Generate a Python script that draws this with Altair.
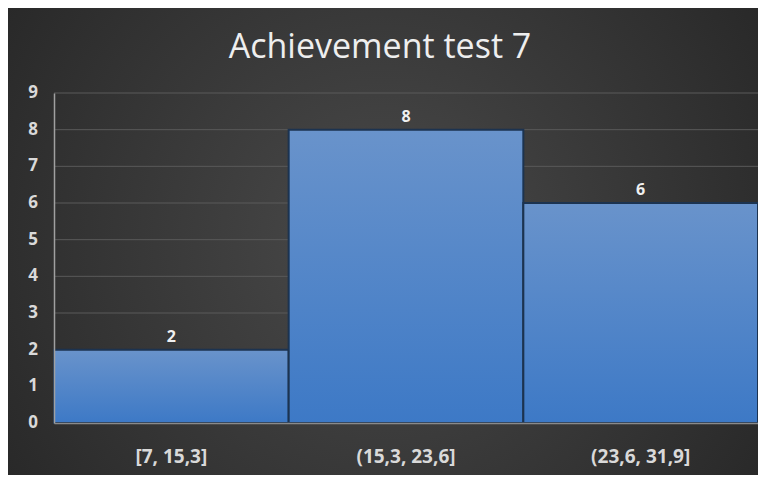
import altair as alt
import pandas as pd

categories = ["[7, 15,3]", "(15,3, 23,6]", "(23,6, 31,9]"]
counts = [2, 8, 6]
title_text = "Achievement test 7"
y_ticks = [0, 1, 2, 3, 4, 5, 6, 7, 8, 9]

df = pd.DataFrame({"bin": categories, "count": counts})
tick_df = pd.DataFrame({"v": y_ticks})
title_df = pd.DataFrame({"t": [title_text]})

W, H = 704, 330
PAD = {"left": 46, "top": 85, "right": 0, "bottom": 52}

y_scale = alt.Scale(domain=[0, 9], nice=False)
y_axis = alt.Axis(title=None, values=y_ticks, ticks=False, labels=False,
                  domainColor="#a0a0a0", domainWidth=1.5, grid=False, zindex=1)

bg = alt.Chart(pd.DataFrame({"a": [0]})).mark_rect(
    color=alt.Gradient(
        gradient="radial",
        x1=0.5, y1=0.5, r1=0.0,
        x2=0.5, y2=0.5, r2=0.75,
        stops=[alt.GradientStop(color="#4a4a4a", offset=0),
               alt.GradientStop(color="#202020", offset=1)],
    )
).encode(
    x=alt.value(-PAD["left"]), x2=alt.value(W + PAD["right"]),
    y=alt.value(-PAD["top"]), y2=alt.value(H + PAD["bottom"]),
)

grid = alt.Chart(tick_df).transform_filter("datum.v > 0").mark_rule(
    color="#5a5a5a", strokeWidth=1
).encode(
    y=alt.Y("v:Q", scale=y_scale, axis=y_axis),
    x=alt.value(0), x2=alt.value(W),
)

ylabels = alt.Chart(tick_df).mark_text(
    align="right", baseline="middle", fontSize=17, color="#d9d9d9",
    font="Open Sans", fontWeight="bold",
).encode(
    y=alt.Y("v:Q", scale=y_scale, axis=y_axis),
    x=alt.value(-16),
    text=alt.Text("v:Q"),
)

title = alt.Chart(title_df).mark_text(
    fontSize=34, color="#eeeeee", font="Open Sans", align="center", baseline="middle",
).encode(
    text="t:N", x=alt.value(326), y=alt.value(-45),
)

base = alt.Chart(df).encode(
    x=alt.X("bin:N", sort=categories,
            scale=alt.Scale(paddingInner=0, paddingOuter=0),
            axis=alt.Axis(title=None, labelAngle=0, ticks=False, labelPadding=24,
                          labelFontSize=19, labelColor="#d9d9d9", labelFont="Open Sans",
                          labelFontWeight="bold", domainColor="#8a8a8a", domainWidth=1.5,
                          grid=False, zindex=1)),
)

bars = base.mark_bar(
    color=alt.Gradient(
        gradient="linear", x1=0, y1=0, x2=0, y2=1,
        stops=[alt.GradientStop(color="#6993cb", offset=0),
               alt.GradientStop(color="#3d79c6", offset=1)],
    ),
    stroke="#1c3350", strokeWidth=2,
).encode(
    y=alt.Y("count:Q", scale=y_scale, axis=y_axis),
)

labels = base.mark_text(
    baseline="bottom", dy=-5, fontSize=16, color="#f0f0f0", font="Open Sans",
    fontWeight="bold",
).encode(
    y=alt.Y("count:Q"),
    text=alt.Text("count:Q"),
)

chart = alt.layer(bg, grid, bars, labels, ylabels, title).properties(
    width=W, height=H,
    padding=PAD,
    autosize=alt.AutoSizeParams(type="none"),
    background="#262626",
).configure_view(stroke=None)

chart.save("out.html", embed_options={"renderer": "svg", "actions": False})
